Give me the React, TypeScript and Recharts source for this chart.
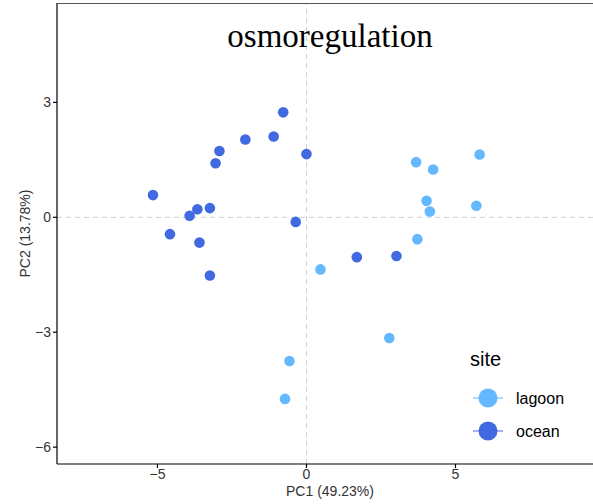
import {
  ScatterChart,
  Scatter,
  XAxis,
  YAxis,
  ReferenceLine,
  Legend,
} from "recharts"

// PCA scores
const oceanPC1 = [-5.15, -4.58, -3.92, -3.66, -3.24, -3.59, -3.24, -3.05, -2.92, -2.05, -1.1, -0.78, 0.0, -0.36, 1.69, 3.02]
const oceanPC2 = [0.58, -0.44, 0.04, 0.21, 0.24, -0.66, -1.52, 1.41, 1.73, 2.03, 2.11, 2.74, 1.65, -0.12, -1.04, -1.01]
const lagoonPC1 = [0.47, 3.68, 4.25, 5.81, 4.03, 4.14, 5.7, 3.72, 2.78, -0.57, -0.72]
const lagoonPC2 = [-1.36, 1.44, 1.25, 1.64, 0.43, 0.15, 0.3, -0.57, -3.15, -3.75, -4.74]

const xTicks = [-5, 0, 5]
const yTicks = [-6, -3, 0, 3]
const X_DOMAIN: [number, number] = [-8.37, 9.95]
const Y_DOMAIN: [number, number] = [-6.44, 5.595]

const sites = ["lagoon", "ocean"]
const OCEAN = "#4169E1"
const LAGOON = "#63B8FF"
const siteColors: Record<string, string> = { lagoon: LAGOON, ocean: OCEAN }

const ocean = oceanPC1.map((x, i) => ({ pc1: x, pc2: oceanPC2[i] }))
const lagoon = lagoonPC1.map((x, i) => ({ pc1: x, pc2: lagoonPC2[i] }))

const sans = "'Liberation Sans', Arial, sans-serif"
const minus = (v: number) => String(v).replace("-", "\u2212")

const dot = (color: string) => (p: any) => (
  <circle cx={p.cx} cy={p.cy} r={5.3} fill={color} />
)

function SiteLegend() {
  return (
    <svg width={130} height={110} style={{ fontFamily: sans }}>
      <text x={10} y={26} fontSize={20} fill="#000">site</text>
      {sites.map((s, i) => {
        const cy = 58 + i * 33
        return (
          <g key={s}>
            <line x1={13} x2={43} y1={cy} y2={cy} stroke={siteColors[s]} strokeWidth={1} />
            <circle cx={28} cy={cy} r={9.5} fill={siteColors[s]} />
            <text x={56} y={cy} fontSize={16} dominantBaseline="central" fill="#000">{s}</text>
          </g>
        )
      })}
    </svg>
  )
}

export default function App() {
  return (
    <div style={{ position: "absolute", left: 0, top: 0, width: 593, height: 504, overflow: "hidden", background: "#fff" }}>
      <ScatterChart width={610} height={504} margin={{ top: 3, right: 7, bottom: 0, left: 0 }}>
        <XAxis
          type="number"
          dataKey="pc1"
          domain={X_DOMAIN}
          ticks={xTicks}
          allowDataOverflow
          height={40}
          tickSize={4}
          tickMargin={1}
          stroke="#000"
          strokeWidth={1.2}
          tickFormatter={minus}
          tick={{ fill: "#333", fontSize: 14, fontFamily: sans }}
          label={{ value: "PC1 (49.23%)", position: "insideBottom", offset: 8, fill: "#333", fontSize: 14, fontFamily: sans }}
        />
        <YAxis
          type="number"
          dataKey="pc2"
          domain={Y_DOMAIN}
          ticks={yTicks}
          allowDataOverflow
          width={57}
          tickSize={4}
          tickMargin={2}
          stroke="#000"
          strokeWidth={1.2}
          tickFormatter={minus}
          tick={{ fill: "#333", fontSize: 14, fontFamily: sans }}
          label={{ value: "PC2 (13.78%)", angle: -90, position: "insideLeft", offset: 25, fill: "#333", fontSize: 14, fontFamily: sans, style: { textAnchor: "middle" } }}
        />
        <ReferenceLine x={0} stroke="#d0d0d0" strokeDasharray="5 4" />
        <ReferenceLine y={0} stroke="#d0d0d0" strokeDasharray="5 4" />
        <Scatter name="lagoon" data={lagoon} fill={LAGOON} shape={dot(LAGOON)} isAnimationActive={false} />
        <Scatter name="ocean" data={ocean} fill={OCEAN} shape={dot(OCEAN)} isAnimationActive={false} />
        <Legend
          verticalAlign="middle"
          align="center"
          content={() => <SiteLegend />}
          wrapperStyle={{ position: "absolute", left: 460, top: 340, width: 130 }}
        />
      </ScatterChart>
      {/* panel top border */}
      <div style={{ position: "absolute", left: 57, top: 3, width: 546, height: 1, background: "#555" }} />
      <div
        style={{
          position: "absolute",
          left: 330,
          top: 20,
          transform: "translateX(-50%)",
          fontFamily: "'Liberation Serif', 'Times New Roman', serif",
          fontSize: 33,
          lineHeight: 1,
          color: "#000",
          whiteSpace: "nowrap",
        }}
      >
        osmoregulation
      </div>
    </div>
  )
}
